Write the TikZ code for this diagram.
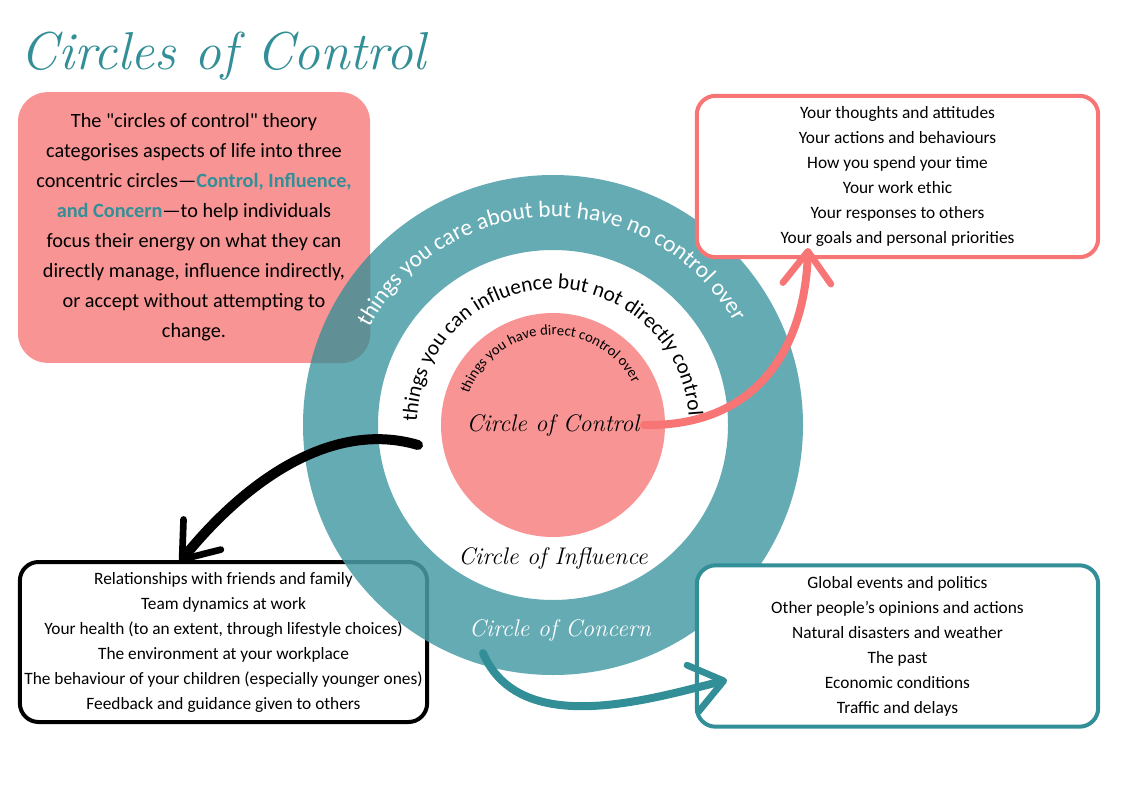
\documentclass[tikz,border=0pt]{standalone}
\usepackage{fontspec}
\newfontfamily\bodyfont{Carlito}
\usetikzlibrary{arrows.meta, positioning, decorations.text}
\definecolor{ringteal}{RGB}{75,157,167}
\definecolor{darkteal}{RGB}{51,143,151}
\definecolor{softpink}{RGB}{248,148,148}
\definecolor{arrowpink}{RGB}{247,117,117}
\definecolor{overlap}{RGB}{96,144,149}

\begin{document}
\begin{tikzpicture}[x=0.75pt, y=0.75pt,
  listbox/.style={draw, line width=3pt, rounded corners=14pt, fill=white, minimum width=301pt,
                  minimum height=121pt, font=\bodyfont\fontsize{13}{18.75}\selectfont, align=center},
  intro/.style={fill=softpink, rounded corners=22pt, minimum width=264pt, minimum height=203pt,
                font=\bodyfont\fontsize{15.2}{22.5}\selectfont, align=center},
  hand/.style={font=\fontsize{18}{18}\selectfont\itshape},
  title/.style={font=\fontsize{40}{40}\selectfont\itshape, text=darkteal, anchor=base west},
  brush/.style={line width=6pt, line cap=round},
  barb/.style={-{Straight Barb[length=24pt, width=36pt, line width=5pt, round]}}
]
\useasboundingbox (0,0) rectangle (1123,794);
\fill[white] (0,0) rectangle (1123,794);
\coordinate (C) at (553,369);

% Title and intro
\node[title](ttl) at (16,724){Circles of Control};
\node[intro](txt) at (194,566.5){The "circles of control" theory\\
  categorises aspects of life into three\\
  concentric circles—{\color{darkteal}\bfseries Control, Influence,}\\
  {\color{darkteal}\bfseries and Concern}—to help individuals\\
  focus their energy on what they can\\
  directly manage, influence indirectly,\\
  or accept without attempting to\\
  change.};

% Influence list (sits under the ring)
\node[listbox, minimum width=302pt, minimum height=120pt](infl) at (223.5,152){%
  Relationships with friends and family\\
  Team dynamics at work\\
  Your health (to an extent, through lifestyle choices)\\
  The environment at your workplace\\
  The behaviour of your children (especially younger ones)\\
  Feedback and guidance given to others};

% Circles
\fill[ringteal, fill opacity=0.85, even odd rule] (C) circle[radius=250] (C) circle[radius=175];
\begin{scope}
\clip[rounded corners=22pt] (txt.south west) rectangle (txt.north east);
\fill[overlap, even odd rule] (C) circle[radius=250] (C) circle[radius=175];
\end{scope}
\fill[softpink] (C) circle[radius=112];

% Control and concern lists
\node[listbox, draw=arrowpink](ctrl) at (897.5,617.5){%
  Your thoughts and attitudes\\
  Your actions and behaviours\\
  How you spend your time\\
  Your work ethic\\
  Your responses to others\\
  Your goals and personal priorities};
\node[listbox, draw=darkteal](conc) at (897.5,148){%
  Global events and politics\\
  Other people’s opinions and actions\\
  Natural disasters and weather\\
  The past\\
  Economic conditions\\
  Traffic and delays};

% Curved texts
\path[decorate, decoration={text along path, text align=center,
  text={|\bodyfont\fontsize{17.5}{17.5}\selectfont\color{white}|things you care about but have no control over{\ }}}]
  ([shift={(185:208)}]C) arc[start angle=185, end angle=-5, radius=208];
\path[decorate, decoration={text along path, text align=center,
  text={|\bodyfont\fontsize{16}{16}\selectfont|things you can influence but not directly control{\ }}}]
  ([shift={(200:136)}]C) arc[start angle=200, end angle=-20, radius=136];
\path[decorate, decoration={text along path, text align=center,
  text={|\bodyfont\fontsize{11}{11}\selectfont|things you have direct control over{\ }}}]
  ([shift={(190:90)}]C) arc[start angle=190, end angle=-5, radius=90];

% Circle labels
\node[hand](ctl) at (553,369){Circle of Control};
\node[hand](inf) at (553,236){Circle of Influence};
\node[hand, text=white](con) at (560,164){Circle of Concern};

% Arrows
\coordinate (pinkTip) at (808,546);
\coordinate (blkStart) at (418,349);
\coordinate (blkTip) at (180,232);
\coordinate (tealStart) at (483,141);
\coordinate (tealTip) at (727,114);
\draw[brush, barb, arrowpink](ctl.east) .. controls (760,367) and (805,450) .. (pinkTip);
\draw[brush, barb, black, line width=7.5pt](blkStart) .. controls (330,375) and (243,310) .. (blkTip);
\draw[brush, barb, darkteal](tealStart) .. controls (520,55) and (650,95) .. (tealTip);
\end{tikzpicture}
\end{document}
